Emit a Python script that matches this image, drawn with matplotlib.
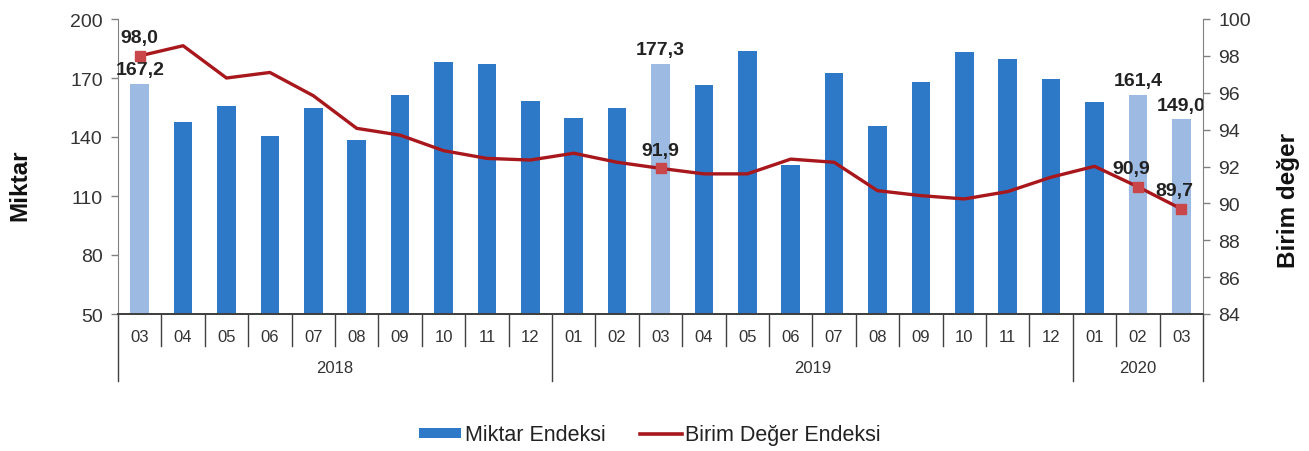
import matplotlib
matplotlib.use("Agg")
import matplotlib.pyplot as plt
import matplotlib.transforms as mtransforms
from matplotlib.patches import Patch
from matplotlib.lines import Line2D

plt.rcParams['font.family'] = ['Liberation Sans', 'DejaVu Sans']

# ---- data ----
months = ["03", "04", "05", "06", "07", "08", "09", "10", "11", "12",
          "01", "02", "03", "04", "05", "06", "07", "08", "09", "10", "11", "12",
          "01", "02", "03"]
years = ["2018", "2019", "2020"]
year_counts = [10, 12, 3]
miktar = [167.2, 147.8, 155.6, 140.4, 154.8, 138.7, 161.5, 178.0, 177.1, 158.2,
          149.7, 154.8, 177.3, 166.6, 183.9, 125.9, 172.7, 145.4, 167.8, 183.4,
          179.5, 169.5, 158.0, 161.4, 149.0]
birim = [98.0, 98.55, 96.8, 97.1, 95.84, 94.07, 93.7, 92.86, 92.44, 92.35,
         92.72, 92.23, 91.9, 91.6, 91.6, 92.4, 92.23, 90.69, 90.42, 90.24,
         90.64, 91.42, 92.01, 90.9, 89.7]
highlight = [0, 12, 23, 24]
bar_labels = {0: "167,2", 12: "177,3", 23: "161,4", 24: "149,0"}
line_labels = {0: "98,0", 12: "91,9", 23: "90,9", 24: "89,7"}

DARK_BLUE = "#2E78C8"
LIGHT_BLUE = "#9DBBE2"
RED = "#A8171C"
MARK = "#C9474A"
GRAY = "#808080"
TXT = "#333333"

fig = plt.figure(figsize=(13.09, 4.52), dpi=100)
ax = fig.add_axes([118/1309, 1-315/452, (1203-118)/1309, (315-20)/452])
ax2 = ax.twinx()

x = list(range(len(months)))
colors = [LIGHT_BLUE if i in highlight else DARK_BLUE for i in x]
ax.bar(x, [m - 50 for m in miktar], bottom=50, width=0.43, color=colors, zorder=2)
ax.set_xlim(-0.5, len(months) - 0.5)
ax.set_ylim(50, 200)
ax.set_yticks([50, 80, 110, 140, 170, 200])
ax.set_xticks([])

ax2.plot(x, birim, color=RED, lw=2.4, zorder=3, solid_joinstyle='round')
ax2.plot([x[i] for i in highlight], [birim[i] for i in highlight], 's',
         color=MARK, markersize=7, zorder=4)
ax2.set_ylim(84, 100)
ax2.set_yticks(range(84, 101, 2))

for a in (ax, ax2):
    a.spines["top"].set_visible(False)
    a.spines["left"].set_color(GRAY)
    a.spines["right"].set_color(GRAY)
    a.spines["bottom"].set_color("#404040")
    a.spines["bottom"].set_linewidth(1.3)
    a.tick_params(axis='y', colors=GRAY, labelcolor=TXT, labelsize=14,
                  length=5, width=1, direction='out', pad=6)
ax.spines["right"].set_visible(False)
ax2.spines["left"].set_visible(False)

# data labels
for i, t in bar_labels.items():
    ax.annotate(t, (i, miktar[i]), xytext=(0, 4), textcoords='offset points',
                ha='center', va='bottom', fontsize=14, fontweight='bold', color="#222222", zorder=5)
for i, t in line_labels.items():
    dx = -5 if i == 24 else (-5 if i == 23 else 0)
    ax2.annotate(t, (i, birim[i]), xytext=(dx, 7), textcoords='offset points',
                 ha='center', va='bottom', fontsize=14, fontweight='bold', color="#222222", zorder=5)

# category table below axis
trans = mtransforms.blended_transform_factory(ax.transData, ax.transAxes)
for i, m in enumerate(months):
    ax.text(i, -0.075, m, transform=trans, ha='center', va='center',
            fontsize=12, color=TXT)
year_bounds = []
acc = 0
for c in year_counts:
    year_bounds.append(acc)
    acc += c
year_bounds.append(acc)
for b in range(len(months) + 1):
    xb = b - 0.5
    y0 = -0.228 if b in year_bounds else -0.108
    ax.add_line(Line2D([xb, xb], [0, y0], transform=trans, color="#404040",
                       lw=1, clip_on=False))
for k, yname in enumerate(years):
    mid = (year_bounds[k] + year_bounds[k + 1]) / 2 - 0.5
    ax.text(mid, -0.183, yname, transform=trans, ha='center', va='center',
            fontsize=12, color=TXT)

# axis titles
fig.text(20/1309, 1-185/452, "Miktar", rotation=90, ha='center', va='center',
         fontsize=17.5, fontweight='bold', color="#111111")
fig.text(1288/1309, 1-201/452, "Birim değer", rotation=90, ha='center', va='center',
         fontsize=17.5, fontweight='bold', color="#111111")

# legend
handles = [Patch(facecolor=DARK_BLUE, edgecolor='none'),
           Line2D([0], [0], color=RED, lw=2.6)]
fig.legend(handles, ["Miktar Endeksi", "Birim Değer Endeksi"], loc='center',
           bbox_to_anchor=(650/1309, 1-436/452), ncol=2, frameon=False,
           fontsize=15.5, handlelength=1.95, handleheight=0.37, handletextpad=0.15,
           columnspacing=1.6, labelcolor="#222222")

fig.savefig("out.png", dpi=100)
